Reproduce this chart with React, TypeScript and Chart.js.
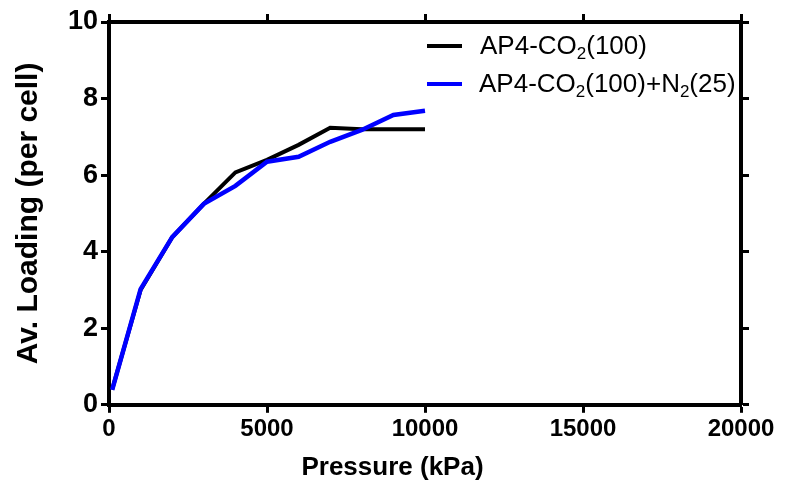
import React, { useEffect, useRef } from "react";
import { Chart, registerables } from "chart.js";

Chart.register(...registerables);

const pressure = [100, 1000, 2000, 3000, 4000, 5000, 6000, 7000, 8000, 9000, 10000];
const loadingCO2 = [0.4, 3.0, 4.38, 5.25, 6.07, 6.4, 6.79, 7.24, 7.2, 7.2, 7.2];
const loadingCO2N2 = [0.39, 3.02, 4.38, 5.25, 5.72, 6.35, 6.48, 6.87, 7.18, 7.57, 7.68];
const xTicks = [0, 5000, 10000, 15000, 20000];
const yTicks = [0, 2, 4, 6, 8, 10];

type Seg = { t: string; sub?: boolean };
const legendItems: { color: string; parts: Seg[] }[] = [
  { color: "#000000", parts: [{ t: "AP4-CO" }, { t: "2", sub: true }, { t: "(100)" }] },
  {
    color: "#0000ff",
    parts: [
      { t: "AP4-CO" },
      { t: "2", sub: true },
      { t: "(100)+N" },
      { t: "2", sub: true },
      { t: "(25)" },
    ],
  },
];

const FONT = "'Liberation Sans', Arial, Helvetica, sans-serif";

const legendPlugin = {
  id: "customLegend",
  afterDraw(chart: any) {
    const ctx = chart.ctx;
    ctx.save();
    const rows = [
      { lineY: 46, baseY: 54, x0: 427, x1: 462, tx: 480 },
      { lineY: 84, baseY: 92, x0: 427, x1: 462, tx: 479 },
    ];
    legendItems.forEach((item, i) => {
      const r = rows[i];
      ctx.strokeStyle = item.color;
      ctx.lineWidth = 4;
      ctx.lineCap = "butt";
      ctx.beginPath();
      ctx.moveTo(r.x0, r.lineY);
      ctx.lineTo(r.x1, r.lineY);
      ctx.stroke();
      let x = r.tx;
      ctx.fillStyle = "#000";
      ctx.textBaseline = "alphabetic";
      ctx.textAlign = "left";
      item.parts.forEach((p) => {
        ctx.font = p.sub ? `17px ${FONT}` : `26px ${FONT}`;
        ctx.fillText(p.t, x, p.sub ? r.baseY + 5 : r.baseY);
        x += ctx.measureText(p.t).width;
      });
    });
    ctx.restore();
  },
};

export default function App() {
  const ref = useRef<HTMLCanvasElement | null>(null);
  useEffect(() => {
    if (!ref.current) return;
    Chart.defaults.font.family = FONT;
    Chart.defaults.color = "#000";
    const gridOpts = {
      drawOnChartArea: false,
      drawTicks: true,
      tickLength: 8,
      tickWidth: 3,
      tickColor: "#000",
    };
    const borderOpts = { display: true, width: 4, color: "#000" };
    const chart = new Chart(ref.current, {
      type: "line",
      data: {
        datasets: [
          {
            label: "AP4-CO2(100)",
            data: pressure.map((p, i) => ({ x: p, y: loadingCO2[i] })),
            borderColor: "#000000",
            backgroundColor: "#000000",
            borderWidth: 4,
            pointRadius: 0,
            tension: 0,
            order: 1,
            xAxisID: "x",
            yAxisID: "y",
          },
          {
            label: "AP4-CO2(100)+N2(25)",
            data: pressure.map((p, i) => ({ x: p, y: loadingCO2N2[i] })),
            borderColor: "#0000ff",
            backgroundColor: "#0000ff",
            borderWidth: 4.5,
            pointRadius: 0,
            tension: 0,
            order: 0,
            xAxisID: "x",
            yAxisID: "y",
          },
        ],
      },
      options: {
        responsive: false,
        animation: false,
        devicePixelRatio: 1,
        layout: { padding: 0 },
        plugins: {
          legend: { display: false },
          tooltip: { enabled: false },
          title: {
            display: true,
            position: "bottom",
            text: "Pressure (kPa)",
            color: "#000",
            font: { size: 26, weight: "bold", family: FONT, lineHeight: 1.2 },
            padding: { top: 0, bottom: 3 },
          },
        },
        scales: {
          x: {
            type: "linear",
            position: "bottom",
            min: 0,
            max: 20000,
            afterBuildTicks: (s: any) => {
              s.ticks = xTicks.map((v) => ({ value: v }));
            },
            ticks: {
              font: { size: 24, weight: "bold", family: FONT },
              color: "#000",
              padding: 2,
              maxRotation: 0,
              autoSkip: false,
              callback: (v: any) => String(v),
            },
            grid: gridOpts,
            border: borderOpts,
            afterFit: (s: any) => {
              s.height = 47;
            },
          },
          x2: {
            type: "linear",
            position: "top",
            min: 0,
            max: 20000,
            afterBuildTicks: (s: any) => {
              s.ticks = xTicks.map((v) => ({ value: v }));
            },
            ticks: { display: false },
            grid: gridOpts,
            border: borderOpts,
            afterFit: (s: any) => {
              s.height = 22;
            },
          },
          y: {
            type: "linear",
            position: "left",
            min: 0,
            max: 10,
            afterBuildTicks: (s: any) => {
              s.ticks = yTicks.map((v) => ({ value: v }));
            },
            ticks: {
              font: { size: 27, weight: "bold", family: FONT },
              color: "#000",
              padding: 3,
              autoSkip: false,
            },
            title: {
              display: true,
              text: "Av. Loading (per cell)",
              color: "#000",
              font: { size: 30, weight: "bold", family: FONT, lineHeight: 1.2 },
              padding: { top: 11, bottom: 0 },
            },
            grid: gridOpts,
            border: borderOpts,
            afterFit: (s: any) => {
              s.width = 109;
            },
          },
          y2: {
            type: "linear",
            position: "right",
            min: 0,
            max: 10,
            afterBuildTicks: (s: any) => {
              s.ticks = yTicks.map((v) => ({ value: v }));
            },
            ticks: { display: false },
            grid: gridOpts,
            border: borderOpts,
            afterFit: (s: any) => {
              s.width = 44;
            },
          },
        },
      } as any,
      plugins: [legendPlugin],
    });
    return () => chart.destroy();
  }, []);
  return (
    <div style={{ position: "fixed", left: 0, top: 0, width: 785, height: 486, background: "#fff" }}>
      <canvas ref={ref} width={785} height={486} style={{ display: "block" }} />
    </div>
  );
}
